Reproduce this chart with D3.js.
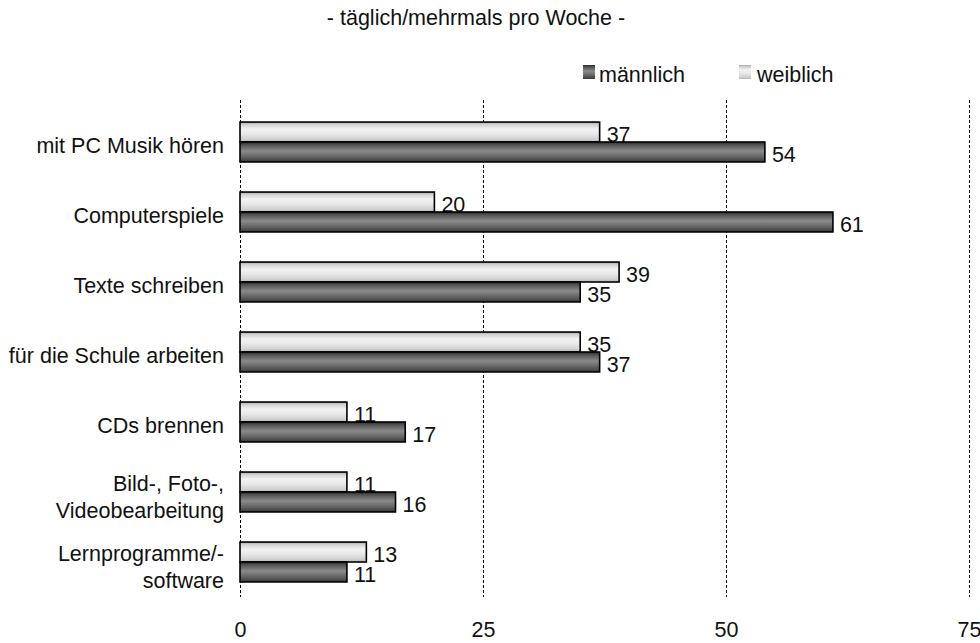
<!DOCTYPE html>
<html>
<head>
<meta charset="utf-8">
<script src="https://cdn.jsdelivr.net/npm/d3@7"></script>
<style>
  html, body { margin: 0; padding: 0; background: #fff; }
  svg { display: block; font-family: "Liberation Sans", Arial, sans-serif; }
</style>
</head>
<body>
<svg id="chart" width="980" height="643"></svg>
<script>
// Activities and shares (%) by gender
const categories = [
  "mit PC Musik hören",
  "Computerspiele",
  "Texte schreiben",
  "für die Schule arbeiten",
  "CDs brennen",
  "Bild-, Foto-, Videobearbeitung",
  "Lernprogramme/-software"
];
const categoryLines = [
  ["mit PC Musik hören"],
  ["Computerspiele"],
  ["Texte schreiben"],
  ["für die Schule arbeiten"],
  ["CDs brennen"],
  ["Bild-, Foto-,", "Videobearbeitung"],
  ["Lernprogramme/-", "software"]
];
const weiblich = [37, 20, 39, 35, 11, 11, 13];
const maennlich = [54, 61, 35, 37, 17, 16, 11];
const seriesNames = ["männlich", "weiblich"];
const xTicks = [0, 25, 50, 75];
const title = "- täglich/mehrmals pro Woche -";

const svg = d3.select("#chart");
const FS = 21.5;
const margin = { left: 240, right: 11, top: 107, bottom: 46 };
const W = 980, H = 643;

const x = d3.scaleLinear().domain([0, 75]).range([margin.left, W - margin.right]);
const y = d3.scaleBand().domain(categories).range([margin.top, H - margin.bottom]).paddingInner(0.43).paddingOuter(0.215);
const sub = d3.scaleBand().domain(["weiblich", "männlich"]).range([0, y.bandwidth()]);

// Gradients: horizontal stripes shading top to bottom
const defs = svg.append("defs");
function grad(id, stops) {
  const g = defs.append("linearGradient").attr("id", id).attr("x1", 0).attr("y1", 0).attr("x2", 0).attr("y2", 1);
  stops.forEach(([o, c]) => g.append("stop").attr("offset", o).attr("stop-color", c));
}
grad("gLight", [[0, "#a8a8a8"], [0.12, "#d0d0d0"], [0.35, "#f2f2f2"], [0.6, "#e8e8e8"], [0.85, "#d2d2d2"], [1, "#b8b8b8"]]);
grad("gDark", [[0, "#2a2a2a"], [0.15, "#555"], [0.45, "#8a8a8a"], [0.7, "#6a6a6a"], [0.9, "#4a4a4a"], [1, "#3a3a3a"]]);

// Title
svg.append("text").attr("x", 476).attr("y", 25).attr("text-anchor", "middle")
  .attr("font-size", FS).attr("fill", "#111").text(title);

// Legend
const legend = [
  { name: seriesNames[0], fill: "url(#gDark)", x: 583, tx: 599 },
  { name: seriesNames[1], fill: "url(#gLight)", x: 739, tx: 757 }
];
legend.forEach(l => {
  svg.append("rect").attr("x", l.x).attr("y", 65).attr("width", 12).attr("height", 14).attr("fill", l.fill);
  svg.append("text").attr("x", l.tx).attr("y", 82).attr("font-size", FS).attr("fill", "#111").text(l.name);
});

// Vertical dashed grid lines
svg.append("g").selectAll("line").data(xTicks).join("line")
  .attr("x1", d => Math.round(x(d)) + 0.5).attr("x2", d => Math.round(x(d)) + 0.5)
  .attr("y1", 100).attr("y2", 597)
  .attr("stroke", "#000").attr("stroke-width", 1).attr("stroke-dasharray", "3,2");

// X axis tick labels
const xAxis = d3.axisBottom(x).tickValues(xTicks).tickSize(0).tickPadding(0);
const gx = svg.append("g").attr("transform", "translate(0,637)").call(xAxis);
gx.select(".domain").remove();
gx.selectAll("text").attr("y", 0).attr("dy", 0).attr("font-size", FS).attr("fill", "#111")
  .attr("font-family", "Liberation Sans, Arial, sans-serif");

// Category labels
const gy = svg.append("g");
categories.forEach((c, i) => {
  const lines = categoryLines[i];
  const cy = y(c) + y.bandwidth() / 2;
  lines.forEach((t, j) => {
    const by = lines.length === 1 ? cy + 11 : cy - 1 + j * 27;
    gy.append("text").attr("x", 224).attr("y", by)
      .attr("text-anchor", "end").attr("font-size", FS).attr("fill", "#111").text(t);
  });
});

// Bars
const rows = categories.map((c, i) => ({ c, w: weiblich[i], m: maennlich[i] }));
const bars = svg.append("g");
rows.forEach(r => {
  [["weiblich", r.w, "url(#gLight)"], ["männlich", r.m, "url(#gDark)"]].forEach(([s, v, f]) => {
    const by = y(r.c) + sub(s);
    bars.append("rect").attr("x", x(0)).attr("y", by)
      .attr("width", x(v) - x(0)).attr("height", sub.bandwidth())
      .attr("fill", f).attr("stroke", "#000").attr("stroke-width", 1.6);
    bars.append("text").attr("x", x(v) + 7).attr("y", by + sub.bandwidth() / 2 + 10)
      .attr("font-size", FS).attr("fill", "#111").text(v);
  });
});
</script>
</body>
</html>
